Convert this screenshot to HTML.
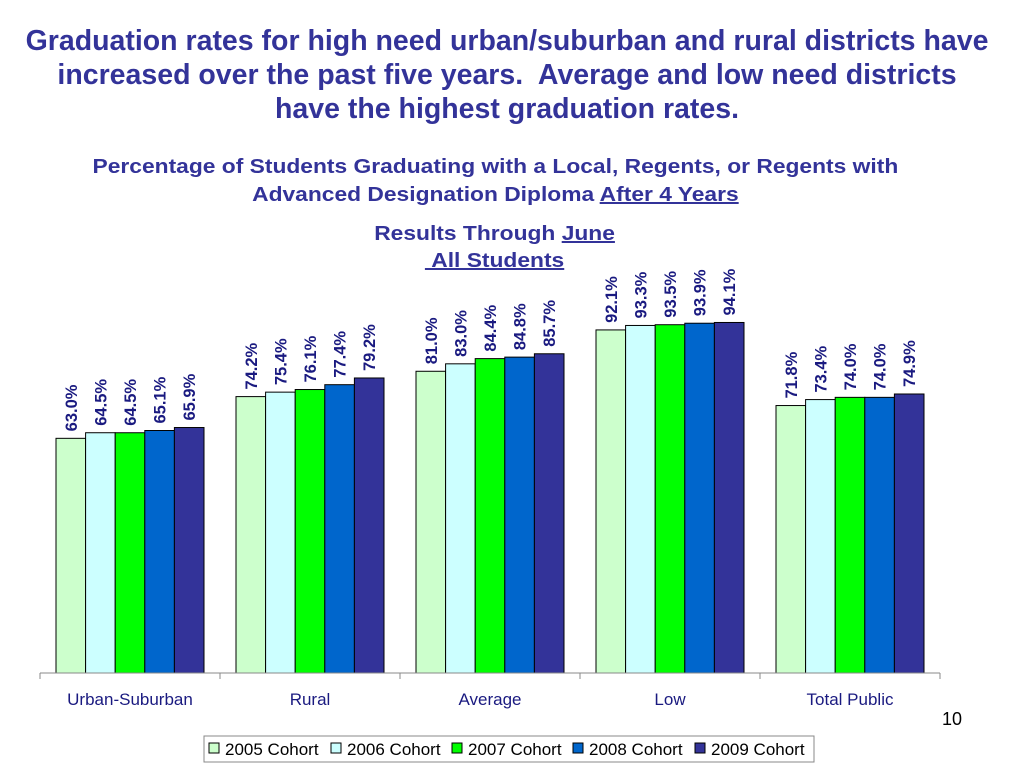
<!DOCTYPE html>
<html><head><meta charset="utf-8"><style>
body{margin:0;width:1024px;height:768px;background:#fff;font-family:"Liberation Sans",sans-serif;overflow:hidden;position:relative}
.t{position:absolute;left:0;width:1024px;text-align:center;color:#333399;font-weight:bold}
.s{display:inline-block;transform:scaleX(1.14);transform-origin:center}
</style></head><body>
<div class="t" style="top:24px;font-size:28.5px;line-height:34px;left:-5px">Graduation rates for high need urban/suburban and rural districts have<br>increased over the past five years.&nbsp; Average and low need districts<br>have the highest graduation rates.</div>
<div class="t" style="top:153px;font-size:20px;line-height:28px;left:-17px"><span class="s">Percentage of Students Graduating with a Local, Regents, or Regents with<br>Advanced Designation Diploma <u>After 4 Years</u></span></div>
<div class="t" style="top:221px;font-size:20px;line-height:27px;left:-17px"><span class="s">Results Through <u>June</u><br><u>&nbsp;All Students</u></span></div>
<svg id="c" width="1024" height="768" style="position:absolute;left:0;top:0"></svg>
<script>
const categories=["Urban-Suburban","Rural","Average","Low","Total Public"];
const seriesNames=["2005 Cohort","2006 Cohort","2007 Cohort","2008 Cohort","2009 Cohort"];
const s2005=[63.0,74.2,81.0,92.1,71.8];
const s2006=[64.5,75.4,83.0,93.3,73.4];
const s2007=[64.5,76.1,84.4,93.5,74.0];
const s2008=[65.1,77.4,84.8,93.9,74.0];
const s2009=[65.9,79.2,85.7,94.1,74.9];
const series=[s2005,s2006,s2007,s2008,s2009];
const colors=["#ccffcc","#ccffff","#00ff00","#0066cc","#333399"];
const NS="http://www.w3.org/2000/svg",svg=document.getElementById('c');
const x0=40,x1=940,base=673,pxPer=3.725,bw=29.6;
const catW=(x1-x0)/categories.length;
const y=v=>base-v*pxPer;
function mk(t,a,p){const e=document.createElementNS(NS,t);for(const k in a)e.setAttribute(k,a[k]);(p||svg).appendChild(e);return e;}
categories.forEach((c,i)=>{
  const gx=x0+i*catW+16;
  series.forEach((s,j)=>{
    const bx=gx+j*bw,v=s[i];
    const r=mk('rect',{x:bx,y:y(v),width:bw,height:v*pxPer,fill:colors[j],stroke:'#000','stroke-width':1});
    
    
    const cx=bx+bw/2+6,ty=y(v)-7;
    const t=mk('text',{x:cx,y:ty,transform:`rotate(-90 ${cx} ${ty})`,'font-size':16.5,'font-weight':'bold',fill:'#1a1a80','font-family':'Liberation Sans, sans-serif'});
    t.textContent=v.toFixed(1)+'%';
    
    
  });
  const l=mk('text',{x:x0+i*catW+catW/2,y:705,'text-anchor':'middle','font-size':17,fill:'#1a1a80','font-family':'Liberation Sans, sans-serif'});
  l.textContent=c;
  
  
});
const ax=mk('line',{x1:x0,y1:base,x2:x1,y2:base,stroke:'#888','stroke-width':1});


for(let i=0;i<=categories.length;i++){const tk=mk('line',{x1:x0+i*catW,y1:base,x2:x0+i*catW,y2:base+6,stroke:'#888'});

}
const pg=mk('text',{x:952,y:725,'text-anchor':'middle','font-size':18,fill:'#000','font-family':'Liberation Sans, sans-serif'});
pg.textContent='10';


const lg=mk('rect',{x:204,y:736,width:610,height:26,fill:'#fff',stroke:'#888'});


const lx=[209,331,452,573,695];
seriesNames.forEach((n,j)=>{
  const sw=mk('rect',{x:lx[j],y:743,width:10,height:10,fill:colors[j],stroke:'#000'});
  
  
  const t=mk('text',{x:lx[j]+16,y:755,'font-size':17,fill:'#000','font-family':'Liberation Sans, sans-serif'});
  t.textContent=n;
  
  
});
</script>
</body></html>
